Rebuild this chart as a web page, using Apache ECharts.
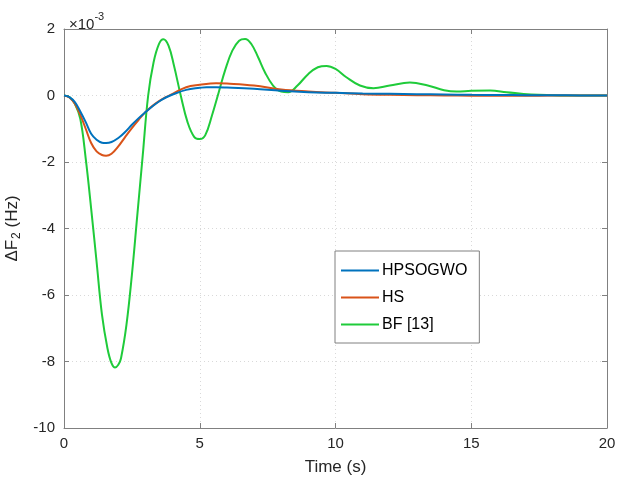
<!DOCTYPE html>
<html><head><meta charset="utf-8">
<script src="https://cdn.jsdelivr.net/npm/echarts@6/dist/echarts.min.js"></script>
<style>html,body{margin:0;padding:0;background:#fff}#c{width:617px;height:483px}</style>
</head><body><div id="c"></div>
<script>
// values in units of 1e-3 Hz
const seriesNames = ['HPSOGWO', 'HS', 'BF [13]'];
const hpsogwoT = [0,0.2,0.4,0.6,0.8,1.0,1.2,1.4,1.55,1.75,2.0,2.25,2.5,2.75,3.0,3.25,3.5,3.75,4.0,4.5,5.0,5.25,5.6,6.0,7.0,8.0,9.0,10,11,12,13,14,15,16,17,18,19,20];
const hpsogwoV = [0,-0.05,-0.2,-0.48,-0.8,-1.15,-1.33,-1.42,-1.43,-1.40,-1.28,-1.1,-0.88,-0.68,-0.5,-0.33,-0.18,-0.06,0.03,0.17,0.23,0.25,0.25,0.24,0.2,0.14,0.1,0.08,0.06,0.05,0.04,0.03,0.02,0.015,0.01,0.005,0.003,0];
const hsT = [0,0.2,0.4,0.6,0.8,1.0,1.2,1.4,1.55,1.75,2.0,2.25,2.5,2.75,3.0,3.25,3.5,3.75,4.0,4.5,5.0,5.6,6.0,7.0,8.0,9.0,10,11,12,13,14,15,16,17,18,19,20];
const hsV = [0,-0.06,-0.25,-0.58,-1.0,-1.43,-1.68,-1.79,-1.81,-1.75,-1.53,-1.25,-0.98,-0.73,-0.5,-0.32,-0.17,-0.05,0.05,0.25,0.32,0.37,0.36,0.3,0.18,0.12,0.08,0.04,0.02,0.01,0.0,-0.005,-0.005,-0.005,-0.003,-0.002,0];
const bfT = [0,0.2,0.4,0.6,0.8,1.0,1.2,1.4,1.6,1.75,1.88,2.0,2.1,2.3,2.5,2.7,2.9,3.1,3.3,3.5,3.66,3.85,4.05,4.3,4.55,4.8,5.0,5.2,5.45,5.7,5.95,6.2,6.45,6.67,6.9,7.15,7.4,7.7,8.0,8.26,8.6,9.0,9.35,9.67,10.0,10.4,10.9,11.4,12.0,12.74,13.4,14.0,14.46,15.0,15.7,16.3,17.2,18,19,20];
const bfV = [0,-0.05,-0.25,-0.7,-1.9,-3.4,-5.0,-6.6,-7.6,-8.05,-8.18,-8.1,-7.9,-6.9,-5.4,-3.6,-1.8,0,1.0,1.55,1.69,1.5,0.9,0.0,-0.8,-1.25,-1.31,-1.2,-0.6,0.1,0.8,1.35,1.65,1.70,1.55,1.15,0.7,0.3,0.12,0.10,0.3,0.65,0.85,0.89,0.8,0.55,0.3,0.22,0.3,0.39,0.3,0.16,0.12,0.14,0.15,0.1,0.03,0.01,0.0,0];
const xTicks = [0,5,10,15,20];
const yTicks = [-10,-8,-6,-4,-2,0,2];
const colors = ['#0072BD', '#D95319', '#1FCB3A'];

function zip(t, v){ return t.map((x,i)=>[x, v[i]]); }

const chart = echarts.init(document.getElementById('c'));
const axisLine = {show:true, onZero:false, lineStyle:{color:'#808080', width:1}};
const splitLine = {show:true, lineStyle:{color:'#d9d9d9', type:[1,3], width:1}};
const font = 'Helvetica, Arial, "Liberation Sans", sans-serif';
const tick = {show:true, inside:true, length:5, lineStyle:{color:'#808080'}};
chart.setOption({
  animation:false,
  textStyle:{fontFamily:font},
  grid:{left:64, top:29, right:10, bottom:55, containLabel:false, outerBoundsMode:'none'},
  title:{text:'{a|×10}{s|-3}', left:64, top:6,
    textStyle:{fontWeight:'normal', rich:{a:{fontSize:15, fontWeight:'normal', color:'#262626', fontFamily:font, padding:[6,0,0,0]}, s:{fontSize:11, fontWeight:'normal', color:'#262626', fontFamily:font, verticalAlign:'top', padding:[0,0,6,0]}}}},
  legend:{
    data:seriesNames, orient:'vertical', left:335, top:251,
    backgroundColor:'#fff', borderColor:'#808080', borderWidth:1, borderRadius:0,
    padding:[11,12,10,6], itemGap:10, itemWidth:38, itemHeight:2,
    icon:'rect',
    textStyle:{fontSize:16, color:'#000', fontFamily:font, padding:[0,0,0,-2], lineHeight:17}
  },
  xAxis:[{
    type:'value', min:0, max:20, interval:5,
    name:'Time (s)', nameLocation:'middle', nameGap:31,
    nameTextStyle:{fontSize:17, color:'#262626'},
    axisLine, axisTick:tick,
    axisLabel:{fontSize:15, color:'#262626', margin:8},
    splitLine
  },{
    type:'value', min:0, max:20, interval:5, position:'top',
    axisLine, axisTick:tick,
    axisLabel:{show:false}, splitLine:{show:false}
  }],
  yAxis:[{
    type:'value', min:-10, max:2, interval:2,
    name:'{a|ΔF}{s|2}{a| (Hz)}', nameLocation:'middle', nameGap:36, nameRotate:90,
    nameTextStyle:{rich:{a:{fontSize:17, color:'#262626', fontFamily:font}, s:{fontSize:12, color:'#262626', fontFamily:font, verticalAlign:'bottom', padding:[9,0,0,1]}}},
    axisLine, axisTick:tick,
    axisLabel:{fontSize:15, color:'#262626', margin:9},
    splitLine
  },{
    type:'value', min:-10, max:2, interval:2, position:'right',
    axisLine, axisTick:tick,
    axisLabel:{show:false}, splitLine:{show:false}
  }],
  series:[
    {name:seriesNames[0], type:'line', data:zip(hpsogwoT,hpsogwoV), smooth:0.4, showSymbol:false, symbol:'none', lineStyle:{width:2, color:colors[0]}, itemStyle:{color:colors[0]}, z:4},
    {name:seriesNames[1], type:'line', data:zip(hsT,hsV), smooth:0.4, showSymbol:false, symbol:'none', lineStyle:{width:2, color:colors[1]}, itemStyle:{color:colors[1]}, z:3},
    {name:seriesNames[2], type:'line', data:zip(bfT,bfV), smooth:0.4, showSymbol:false, symbol:'none', lineStyle:{width:2, color:colors[2]}, itemStyle:{color:colors[2]}, z:2}
  ]
});
</script></body></html>
